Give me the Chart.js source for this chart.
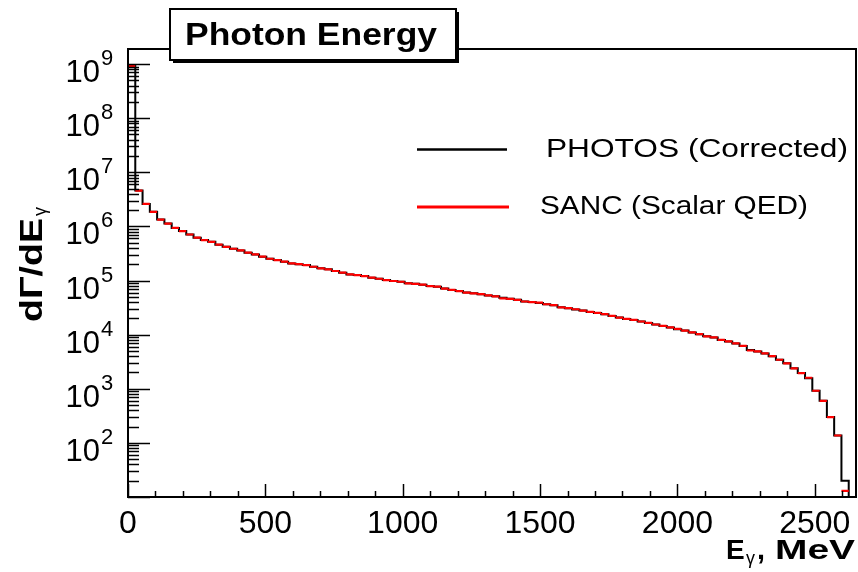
<!DOCTYPE html>
<html><head><meta charset="utf-8">
<script src="https://cdn.jsdelivr.net/npm/chart.js@4.4.1/dist/chart.umd.min.js"></script>
<style>html,body{margin:0;padding:0;background:#fff;}#wrap{width:858px;height:572px;position:relative;}</style>
</head><body><div id="wrap"><canvas id="c" width="858" height="572"></canvas></div>
<script>
// Bin edges (MeV), 100 bins from 0 to 2650
const binEdges = [0,26.5,53,79.5,106,132.5,159,185.5,212,238.5,265,291.5,318,344.5,371,397.5,424,450.5,477,503.5,
530,556.5,583,609.5,636,662.5,689,715.5,742,768.5,795,821.5,848,874.5,901,927.5,954,980.5,1007,1033.5,
1060,1086.5,1113,1139.5,1166,1192.5,1219,1245.5,1272,1298.5,1325,1351.5,1378,1404.5,1431,1457.5,1484,1510.5,1537,1563.5,
1590,1616.5,1643,1669.5,1696,1722.5,1749,1775.5,1802,1828.5,1855,1881.5,1908,1934.5,1961,1987.5,2014,2040.5,2067,2093.5,
2120,2146.5,2173,2199.5,2226,2252.5,2279,2305.5,2332,2358.5,2385,2411.5,2438,2464.5,2491,2517.5,2544,2570.5,2597,2623.5,2650];

const photos = [9.3e8,4.6e6,2.6e6,1.86e6,1.34e6,1.13e6,9.4e5,8.2e5,7.1e5,6.2e5,
5.6e5,5.2e5,4.6e5,4.2e5,3.87e5,3.6e5,3.27e5,3.04e5,2.76e5,2.53e5,
2.39e5,2.23e5,2.07e5,2.01e5,1.93e5,1.80e5,1.68e5,1.61e5,1.50e5,1.40e5,
1.30e5,1.26e5,1.21e5,1.13e5,1.08e5,1.02e5,9.8e4,9.5e4,8.9e4,8.7e4,
8.4e4,7.9e4,7.7e4,7.1e4,6.7e4,6.4e4,6.0e4,5.8e4,5.6e4,5.3e4,
5.1e4,4.8e4,4.6e4,4.4e4,4.1e4,4.0e4,3.85e4,3.65e4,3.5e4,3.2e4,
3.08e4,2.91e4,2.79e4,2.63e4,2.52e4,2.39e4,2.22e4,2.07e4,1.95e4,1.87e4,
1.75e4,1.65e4,1.54e4,1.45e4,1.36e4,1.26e4,1.19e4,1.10e4,1.02e4,9.3e3,
8.9e3,8.0e3,7.5e3,6.9e3,6.2e3,5.2e3,4.9e3,4.5e3,3.97e3,3.44e3,
2.95e3,2.39e3,1.95e3,1.56e3,9.2e2,6.0e2,3.0e2,1.37e2,20,1];

const sanc = [9.3e8,4.6e6,2.6e6,1.86e6,1.34e6,1.13e6,9.4e5,8.2e5,7.1e5,6.2e5,
5.6e5,5.2e5,4.6e5,4.2e5,3.87e5,3.6e5,3.27e5,3.04e5,2.76e5,2.53e5,
2.39e5,2.23e5,2.07e5,2.01e5,1.93e5,1.80e5,1.68e5,1.61e5,1.50e5,1.40e5,
1.30e5,1.26e5,1.21e5,1.13e5,1.08e5,1.02e5,9.8e4,9.5e4,8.9e4,8.7e4,
8.4e4,7.9e4,7.7e4,7.1e4,6.7e4,6.4e4,6.0e4,5.8e4,5.6e4,5.3e4,
5.1e4,4.7e4,4.6e4,4.4e4,4.1e4,4.0e4,3.9e4,3.65e4,3.5e4,3.2e4,
3.08e4,2.95e4,2.79e4,2.63e4,2.52e4,2.39e4,2.22e4,2.07e4,1.95e4,1.87e4,
1.75e4,1.65e4,1.54e4,1.45e4,1.36e4,1.28e4,1.19e4,1.10e4,1.02e4,9.3e3,
8.9e3,8.0e3,7.5e3,6.9e3,6.2e3,5.1e3,4.9e3,4.5e3,4.0e3,3.44e3,
2.95e3,2.39e3,1.95e3,1.6e3,9.2e2,6.0e2,3.0e2,1.37e2,13,1];

const xTickValues = [0,500,1000,1500,2000,2500];
const xTickLabels = ['0','500','1000','1500','2000','2500'];
const yTickExponents = [2,3,4,5,6,7,8,9];
const seriesNames = ['PHOTOS (Corrected)','SANC (Scalar QED)'];
const titleText = 'Photon Energy';

const FONT = '"Liberation Sans", Arial, Helvetica, sans-serif';

// histogram outline (black) as connected steps
const blackData = [];
for (let i = 0; i < photos.length; i++) {
  blackData.push({x: binEdges[i], y: photos[i]});
  blackData.push({x: binEdges[i+1], y: photos[i]});
}
// red: horizontal bin segments
const redData = [];
for (let i = 0; i < sanc.length; i++) {
  redData.push({x: binEdges[i], y: sanc[i]});
  redData.push({x: binEdges[i+1], y: sanc[i]});
  redData.push({x: binEdges[i+1], y: null});
}

function fitText(ctx, text, x, y, width, font, align) {
  ctx.save();
  ctx.font = font;
  const w = ctx.measureText(text).width;
  const s = width / w;
  let left = x;
  if (align === 'center') left = x - width / 2;
  else if (align === 'right') left = x - width;
  ctx.translate(left, y);
  ctx.scale(s, 1);
  ctx.textAlign = 'left';
  ctx.textBaseline = 'alphabetic';
  ctx.fillText(text, 0, 0);
  ctx.restore();
}

const decor = {
  id: 'decor',
  afterDraw(chart) {
    const ctx = chart.ctx;
    const a = chart.chartArea;
    const xs = chart.scales.x, ys = chart.scales.y;
    ctx.save();
    ctx.fillStyle = '#000';
    ctx.strokeStyle = '#000';
    // frame
    ctx.lineWidth = 2;
    ctx.strokeRect(a.left, a.top, a.right - a.left, a.bottom - a.top);
    // x ticks
    ctx.lineWidth = 1.5;
    for (let v = 0; v <= xs.max; v += 100) {
      const px = Math.round(xs.getPixelForValue(v)) + 0.5;
      const major = v % 500 === 0;
      ctx.beginPath();
      ctx.moveTo(px, a.bottom);
      ctx.lineTo(px, a.bottom - (major ? 13 : 6));
      ctx.stroke();
    }
    // y ticks
    for (let n = 1; n <= 9; n++) {
      for (let k = 1; k <= 9; k++) {
        const v = k * Math.pow(10, n);
        if (v < ys.min || v > ys.max) continue;
        const py = Math.round(ys.getPixelForValue(v)) + 0.5;
        ctx.beginPath();
        ctx.moveTo(a.left, py);
        ctx.lineTo(a.left + (k === 1 ? 22 : 11), py);
        ctx.stroke();
      }
    }
    // x labels
    ctx.font = '32px ' + FONT;
    ctx.textAlign = 'center';
    ctx.textBaseline = 'alphabetic';
    xTickValues.forEach((v, i) => {
      ctx.fillText(xTickLabels[i], xs.getPixelForValue(v), 533);
    });
    // y labels 10^n
    yTickExponents.forEach(n => {
      const py = ys.getPixelForValue(Math.pow(10, n));
      ctx.font = '31px ' + FONT;
      ctx.textAlign = 'right';
      ctx.fillText('10', 100, py + 18);
      ctx.font = '22px ' + FONT;
      ctx.textAlign = 'left';
      ctx.fillText(String(n), 101, py + 1);
    });
    // x axis title
    ctx.textAlign = 'left';
    ctx.font = 'bold 28px ' + FONT;
    ctx.fillText('E', 726, 559);
    ctx.font = '18px ' + FONT;
    ctx.fillText('\u03B3', 746, 564);
    fitText(ctx, ',', 757, 559, 8, 'bold 28px ' + FONT, 'left');
    fitText(ctx, 'MeV', 775, 559, 80, 'bold 28px ' + FONT, 'left');
    // y axis title (rotated)
    ctx.save();
    ctx.translate(42, 322);
    ctx.rotate(-Math.PI / 2);
    fitText(ctx, 'd\u0393/dE', 0, 0, 104, 'bold 32px ' + FONT, 'left');
    ctx.font = '18px ' + FONT;
    ctx.fillText('\u03B3', 106, 4);
    ctx.restore();
    // legend
    ctx.lineWidth = 2.5;
    ctx.strokeStyle = '#000';
    ctx.beginPath(); ctx.moveTo(417, 149.5); ctx.lineTo(507, 149.5); ctx.stroke();
    ctx.lineWidth = 3;
    ctx.strokeStyle = '#ff0000';
    ctx.beginPath(); ctx.moveTo(417, 207); ctx.lineTo(509, 207); ctx.stroke();
    ctx.fillStyle = '#000';
    fitText(ctx, seriesNames[0], 546, 157, 302, '25px ' + FONT, 'left');
    fitText(ctx, seriesNames[1], 540, 213.5, 268, '25px ' + FONT, 'left');
    // title box with shadow
    ctx.fillStyle = '#000';
    ctx.fillRect(173, 12, 286, 51);
    ctx.fillStyle = '#fff';
    ctx.fillRect(170, 9, 286, 51);
    ctx.strokeStyle = '#000';
    ctx.lineWidth = 2;
    ctx.strokeRect(170, 9, 286, 51);
    ctx.fillStyle = '#000';
    fitText(ctx, titleText, 185, 45, 252, 'bold 31px ' + FONT, 'left');
    ctx.restore();
  }
};

new Chart(document.getElementById('c').getContext('2d'), {
  type: 'line',
  data: {
    datasets: [
      { label: seriesNames[0], data: blackData, borderColor: '#000', borderWidth: 2, pointRadius: 0, tension: 0, fill: false, spanGaps: false, order: 2 },
      { label: seriesNames[1], data: redData, borderColor: '#ff0000', borderWidth: 2.2, pointRadius: 0, tension: 0, fill: false, spanGaps: false, order: 1 }
    ]
  },
  options: {
    responsive: false,
    animation: false,
    events: [],
    layout: { padding: { left: 128, top: 49, right: 2, bottom: 75 } },
    plugins: { legend: { display: false }, tooltip: { enabled: false }, title: { display: false } },
    scales: {
      x: { type: 'linear', min: 0, max: 2650, display: false },
      y: { type: 'logarithmic', min: 10, max: 1.9e9, display: false }
    }
  },
  plugins: [decor]
});
</script>
</body></html>
